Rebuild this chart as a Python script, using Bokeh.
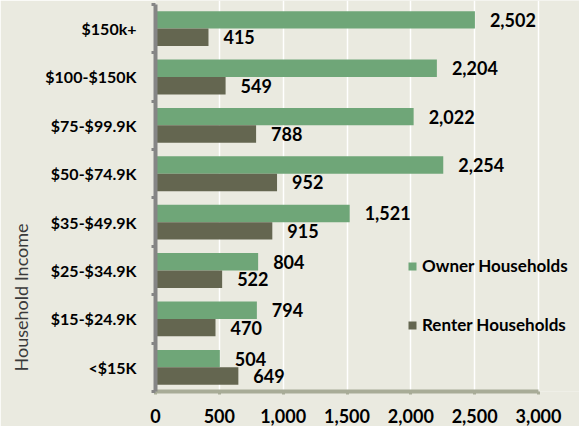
from bokeh.plotting import figure
from bokeh.models import (ColumnDataSource, Range1d, FixedTicker, NumeralTickFormatter,
                          Legend, LegendItem, Title)
from bokeh.transform import dodge
from bokeh.core.properties import value
from bokeh.embed import file_html
from bokeh.resources import INLINE

categories = ["<$15K", "$15-$24.9K", "$25-$34.9K", "$35-$49.9K",
              "$50-$74.9K", "$75-$99.9K", "$100-$150K", "$150k+"]
owner = [504, 794, 804, 1521, 2254, 2022, 2204, 2502]
renter = [649, 470, 522, 915, 952, 788, 549, 415]
x_ticks = [0, 500, 1000, 1500, 2000, 2500, 3000]

BG = "#eaeae0"
GREEN = "#6fa678"
DARK = "#646650"
FONT = "Lato"

W, H = 579, 426
FRAME_LEFT = 155
X_MAX_PX = 538          # pixel where 3,000 sits
X_MAX = 3000
x_end = X_MAX * (W - FRAME_LEFT) / (X_MAX_PX - FRAME_LEFT)

idx = list(range(len(categories)))
bar_h = 0.36
src = ColumnDataSource(dict(
    y=idx, owner=owner, renter=renter,
    owner_lbl=[f"{v:,}" for v in owner],
    renter_lbl=[f"{v:,}" for v in renter]))

p = figure(width=W, height=H, output_backend="svg", toolbar_location=None,
           x_range=Range1d(0, x_end), y_range=Range1d(-0.5, len(categories) - 0.5 + 0.08),
           min_border_left=FRAME_LEFT, min_border_right=0, min_border_top=0, min_border_bottom=35)
p.background_fill_color = BG
p.border_fill_color = BG
p.outline_line_color = None

r1 = p.hbar(y=dodge("y", bar_h / 2, range=p.y_range), left=0, right="owner", height=bar_h,
            source=src, fill_color=GREEN, line_color=None)
r2 = p.hbar(y=dodge("y", -bar_h / 2, range=p.y_range), left=0, right="renter", height=bar_h,
            source=src, fill_color=DARK, line_color=None)

p.text(x="owner", y=dodge("y", bar_h / 2, range=p.y_range), text="owner_lbl", source=src,
       x_offset=15, text_align="left", text_baseline="middle",
       text_font=value(FONT), text_font_style="bold", text_font_size="18px", text_color="black")
p.text(x="renter", y=dodge("y", -bar_h / 2, range=p.y_range), text="renter_lbl", source=src,
       x_offset=15, text_align="left", text_baseline="middle",
       text_font=value(FONT), text_font_style="bold", text_font_size="18px", text_color="black")

# x axis
xa = p.xaxis[0]
xa.ticker = FixedTicker(ticks=x_ticks)
xa.bounds = (0, X_MAX)
xa.formatter = NumeralTickFormatter(format="0,0")
xa.axis_line_color = "#a8ac97"
xa.axis_line_width = 4
xa.major_tick_line_color = "#a8ac97"
xa.major_tick_line_width = 3
xa.major_tick_out = 3
xa.major_tick_in = 0
xa.minor_tick_line_color = None
xa.major_label_standoff = 14
xa.major_label_text_font = FONT
xa.major_label_text_font_style = "bold"
xa.major_label_text_font_size = "18px"
xa.major_label_text_color = "black"

# y axis
ya = p.yaxis[0]
ya.ticker = FixedTicker(ticks=idx, minor_ticks=[i - 0.5 for i in range(len(categories) + 1)])
ya.bounds = (-0.5, len(categories) - 0.5)
ya.major_label_overrides = {i: c for i, c in zip(idx, categories)}
ya.axis_line_color = "#858585"
ya.axis_line_width = 4
ya.major_tick_line_color = None
ya.major_tick_out = 0
ya.major_tick_in = 0
ya.minor_tick_line_color = "#858585"
ya.minor_tick_line_width = 3
ya.minor_tick_out = 4
ya.minor_tick_in = 0
ya.major_label_standoff = 15
ya.major_label_text_font = FONT
ya.major_label_text_font_style = "bold"
ya.major_label_text_font_size = "16px"
ya.major_label_text_color = "black"

p.ygrid.grid_line_color = None
p.xgrid.ticker = FixedTicker(ticks=x_ticks)
p.xgrid.grid_line_color = "white"
p.xgrid.grid_line_width = 1.5

ytitle = Title(text="Household Income", align="left", offset=20, vertical_align="top",
               standoff=17, text_font=FONT, text_font_style="normal",
               text_font_size="18px", text_color="#3a3a3a")
p.add_layout(ytitle, "left")

legend = Legend(items=[LegendItem(label="Owner Households", renderers=[r1]),
                       LegendItem(label="Renter Households", renderers=[r2])],
                location=(252, 56), background_fill_alpha=0, border_line_color=None,
                padding=0, margin=0, spacing=38, label_height=20, glyph_height=10,
                glyph_width=10, label_standoff=5, label_text_font=FONT,
                label_text_font_style="bold", label_text_font_size="17px",
                label_text_color="black")
p.add_layout(legend)

html = file_html(p, INLINE)
html = html.replace("<body>", '<body style="background-color:%s;">' % BG, 1)
open("out.html", "w").write(html)
